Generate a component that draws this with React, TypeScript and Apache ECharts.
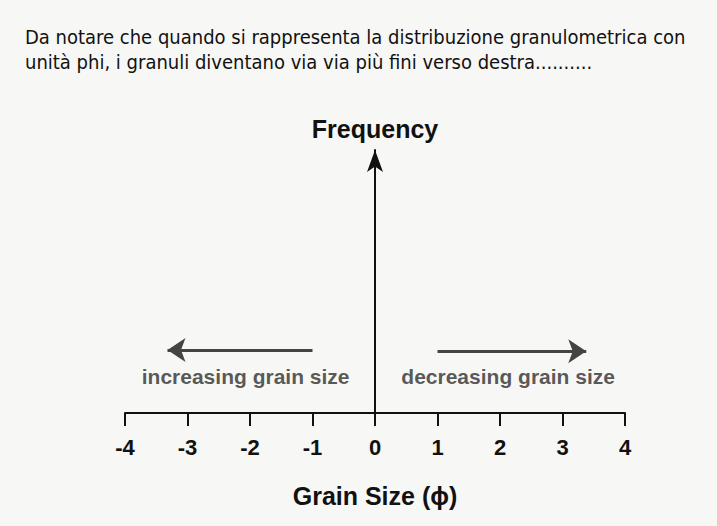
import React, { useEffect, useRef } from "react";
import * as echarts from "echarts";

const titleLines = [
  "Da notare che quando si rappresenta la distribuzione granulometrica con",
  "unità phi, i granuli diventano via via più fini verso destra..........",
];
const xTicks = [-4, -3, -2, -1, 0, 1, 2, 3, 4];
const xName = "Grain Size (\u03d5)";
const yName = "Frequency";
const arrowLeft = [[-1, 0.24], [-3.32, 0.24]];
const arrowRight = [[1, 0.235], [3.38, 0.235]];
const directionLabels = [
  { name: "increasing grain size", value: [-2.07, 0.137] },
  { name: "decreasing grain size", value: [2.13, 0.137] },
];

export default function App() {
  const ref = useRef<HTMLDivElement>(null);
  useEffect(() => {
    if (!ref.current) return;
    const chart = echarts.init(ref.current, undefined, { renderer: "svg" });
    const bold = "'Liberation Sans', Arial, sans-serif";
    chart.setOption({
      animation: false,
      backgroundColor: "#f7f7f5",
      title: {
        text: titleLines.join("\n"),
        left: 25,
        top: 24,
        padding: 0,
        textStyle: {
          fontFamily: "'DejaVu Sans Condensed', sans-serif",
          fontSize: 20,
          fontWeight: "normal",
          color: "#111",
          lineHeight: 25,
        },
      },
      grid: { left: 125, right: 92, top: 150, bottom: 113 },
      xAxis: {
        type: "value",
        min: xTicks[0],
        max: xTicks[xTicks.length - 1],
        interval: 1,
        splitLine: { show: false },
        axisLine: { onZero: true, lineStyle: { color: "#111", width: 2 } },
        axisTick: { show: true, length: 13, lineStyle: { color: "#111", width: 2 } },
        axisLabel: {
          margin: 23,
          fontFamily: bold,
          fontWeight: "bold",
          fontSize: 22,
          color: "#111",
        },
        name: xName,
        nameLocation: "middle",
        nameGap: 70,
        nameTextStyle: { fontFamily: bold, fontWeight: "bold", fontSize: 25, color: "#111" },
      },
      yAxis: {
        type: "value",
        min: 0,
        max: 1,
        splitLine: { show: false },
        axisTick: { show: false },
        axisLabel: { show: false },
        axisLine: {
          onZero: true,
          symbol: ["none", "arrow"],
          symbolSize: [12, 22],
          lineStyle: { color: "#111", width: 2 },
        },
        name: yName,
        nameLocation: "end",
        nameGap: 9,
        nameTextStyle: { fontFamily: bold, fontWeight: "bold", fontSize: 25, color: "#111", align: "center" },
      },
      series: [
        {
          type: "lines",
          coordinateSystem: "cartesian2d",
          symbol: ["none", "arrow"],
          symbolSize: 18,
          lineStyle: { color: "#444", width: 3, opacity: 1 },
          data: [{ coords: arrowLeft }, { coords: arrowRight }],
        },
        {
          type: "scatter",
          symbolSize: 0,
          data: directionLabels,
          label: {
            show: true,
            position: "inside",
            formatter: (p: any) => p.name,
            fontFamily: bold,
            fontWeight: "bold",
            fontSize: 21,
            color: "#2e2e2e",
          },
        },
      ],
    });
    return () => chart.dispose();
  }, []);
  return (
    <div
      ref={ref}
      style={{ position: "absolute", left: 0, top: 0, width: 717, height: 526 }}
    />
  );
}
